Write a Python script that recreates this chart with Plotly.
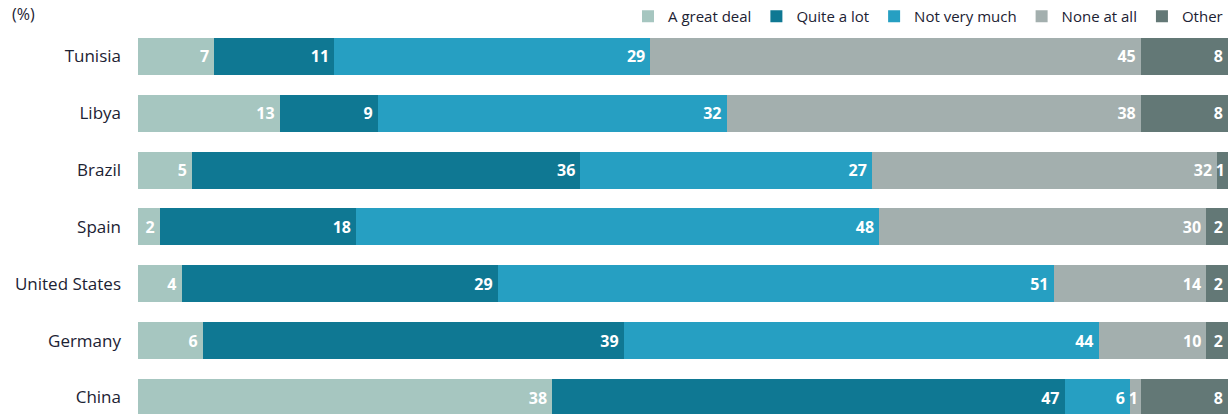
import plotly.graph_objects as go

countries = ["Tunisia", "Libya", "Brazil", "Spain", "United States", "Germany", "China"]
great_deal = [7, 13, 5, 2, 4, 6, 38]
quite_a_lot = [11, 9, 36, 18, 29, 39, 47]
not_very_much = [29, 32, 27, 48, 51, 44, 6]
none_at_all = [45, 38, 32, 30, 14, 10, 1]
other = [8, 8, 1, 2, 2, 2, 8]

series = [
    ("A great deal", great_deal, "#a6c6c0"),
    ("Quite a lot", quite_a_lot, "#0f7893"),
    ("Not very much", not_very_much, "#269fc2"),
    ("None at all", none_at_all, "#a3afae"),
    ("Other", other, "#637876"),
]

FONT = "Liberation Sans Narrow, Open Sans, sans-serif"


def label(v):
    # a narrow trailing space keeps the number off the segment edge,
    # except in the thinnest segments where it would spill over
    return f"{v}\u202f" if v > 1 else str(v)


fig = go.Figure()
for name, vals, color in series:
    fig.add_trace(go.Bar(
        name=name,
        y=countries,
        x=vals,
        orientation="h",
        marker=dict(color=color, line=dict(width=0)),
        text=[label(v) for v in vals],
        textposition="inside",
        insidetextanchor="end",
        constraintext="none",
        textfont=dict(family=FONT, size=16, color="white", weight="bold"),
        hoverinfo="skip",
    ))

fig.update_layout(
    barmode="stack",
    barnorm="percent",
    bargap=0.35,
    width=1230,
    height=414,
    margin=dict(l=138, r=2, t=27, b=0),
    plot_bgcolor="white",
    paper_bgcolor="white",
    font=dict(family=FONT, color="#1c2233"),
    showlegend=True,
    legend=dict(
        orientation="h",
        x=1.0, xanchor="right",
        y=1.03, yanchor="middle",
        font=dict(size=15, family=FONT, color="#1c2233"),
        traceorder="normal",
        itemwidth=30,
        bgcolor="rgba(0,0,0,0)",
    ),
    xaxis=dict(range=[0, 100], visible=False, fixedrange=True),
    yaxis=dict(
        categoryorder="array",
        categoryarray=countries,
        range=[6.29, -0.5],
        showgrid=False,
        zeroline=False,
        ticks="",
        ticklabelstandoff=16,
        tickfont=dict(size=17, family=FONT, color="#1c2233"),
    ),
    annotations=[
        dict(
            text="(%)",
            xref="paper", yref="paper",
            x=-0.117, y=1.0698,
            xanchor="left", yanchor="top",
            showarrow=False,
            font=dict(size=16, family=FONT, color="#1c2233"),
        )
    ],
)

fig.write_html("out.html")
